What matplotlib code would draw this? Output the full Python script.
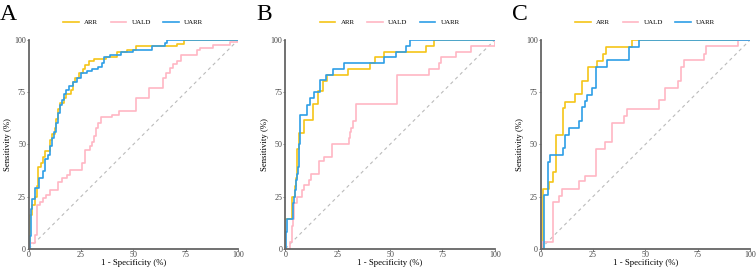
import matplotlib
matplotlib.use("Agg")
import matplotlib.pyplot as plt

plt.rcParams['font.family'] = ['Liberation Serif', 'DejaVu Serif']

# ROC step points: x = 1 - specificity (%), y = sensitivity (%) after each jump
a_arr_x = [0, 0.5, 1.5, 3, 4, 4.5, 6, 7, 8, 10, 11, 12.5, 13, 14, 15, 17, 18, 20, 21, 22, 24, 26, 27, 29, 31, 37, 42, 47, 51, 71, 74, 100]
a_arr_y = [0, 16, 21, 25, 30, 39, 41, 44, 47, 52, 55, 58, 62, 67, 70, 72, 74, 76, 80, 82, 84, 86, 88, 90, 91, 92, 94, 95, 97, 98, 100, 100]
a_uald_x = [0, 0.6, 3, 3.8, 5.4, 7, 8.3, 10.2, 14.2, 16, 18.2, 19.7, 25.3, 27, 29.3, 30, 31, 32, 33, 34.5, 40, 43, 51.3, 57.6, 64, 65.5, 67.6, 69, 71, 72.8, 80.2, 81.8, 88, 96, 100]
a_uald_y = [0, 2.7, 6.7, 21, 22.6, 24.2, 25.8, 28.2, 32, 33.8, 35.4, 37.7, 40.9, 47.3, 49, 51, 54, 57.6, 60, 63, 64, 66, 72.4, 76.9, 82, 84, 86.4, 88.4, 90, 92.8, 95.2, 96.3, 97.6, 99, 100]
a_uarr_x = [0, 0.5, 1, 1.5, 3, 5, 7, 8, 9, 10, 11, 12, 13, 14, 15, 16, 17, 18, 19, 21, 23, 25, 28, 30, 33, 35, 36, 39, 44, 50, 59, 65, 66, 100]
a_uarr_y = [0, 6, 19, 24, 29, 34, 37, 43, 45, 49, 53, 56, 60, 65, 69, 71, 74, 76, 78, 80, 82, 84, 85, 86, 87, 89, 92, 93, 94, 95, 97, 98.5, 100, 100]

b_arr_x = [0, 0, 3.2, 4.8, 5.3, 5.8, 6.7, 9, 13.1, 15.7, 18, 19.7, 30, 40.5, 42.6, 47, 67, 71, 100]
b_arr_y = [0, 14, 25, 30, 34, 47.6, 55.4, 61.5, 69.5, 75.6, 80.4, 83, 86, 88.8, 92, 94.4, 97, 100, 100]
b_uald_x = [0, 2, 3, 3.5, 4, 5.6, 8, 8.8, 11.2, 12.5, 16, 18.4, 22.4, 30.4, 31, 31.6, 32.4, 33.6, 53.1, 68.8, 73.6, 74.4, 81.6, 88.8, 100]
b_uald_y = [0, 3, 11, 14, 22, 25, 28, 30.5, 33, 36, 42, 44, 50, 53, 56, 58, 61, 69.5, 83, 86, 89, 92, 94.4, 97, 100]
b_uarr_x = [0, 0.3, 1, 3.5, 4, 4.5, 5, 5.5, 6, 6.5, 7, 10.5, 12, 13.5, 16.5, 19.5, 23, 28, 47, 53, 57.5, 59.5, 100]
b_uarr_y = [0, 8, 14, 22, 25, 28, 33, 36, 39, 50, 64, 69, 72, 75, 81, 83, 86, 89, 92, 94, 97, 100, 100]

c_arr_x = [0, 1.3, 3.8, 5.7, 7.3, 10.5, 11.8, 16.6, 19.8, 22.6, 27, 29.8, 31.3, 43.7, 100]
c_arr_y = [0, 28.8, 32, 36.8, 54.7, 67.5, 70.5, 74, 80.5, 86.8, 90, 93.3, 96.7, 100, 100]
c_uald_x = [0, 0.6, 5.7, 8.6, 10.2, 18.2, 21, 26.5, 30.6, 34.1, 39.7, 41, 56.6, 59.5, 65.7, 67, 68.6, 77.8, 79.1, 94.2, 100]
c_uald_y = [0, 3, 22.2, 25.4, 28.5, 32.2, 34.8, 47.6, 50.9, 60.4, 63.6, 67.1, 71, 77, 80.5, 87, 90.5, 93.5, 97, 100, 100]
c_uarr_x = [0, 1.4, 3.5, 4.6, 10.5, 11.8, 13.4, 18.2, 19.8, 21, 22.2, 24.6, 26.2, 31.7, 42, 46.9, 100]
c_uarr_y = [0, 25.5, 41.5, 44.9, 48, 54.5, 57.7, 61, 68, 70.6, 73.8, 77, 86.8, 90.2, 96.8, 100, 100]

panels = ['A', 'B', 'C']
series_names = ['ARR', 'UALD', 'UARR']
colors = ['#F5C518', '#FFB6C4', '#2E9EE6']
panel_data = [
    [(a_arr_x, a_arr_y), (a_uald_x, a_uald_y), (a_uarr_x, a_uarr_y)],
    [(b_arr_x, b_arr_y), (b_uald_x, b_uald_y), (b_uarr_x, b_uarr_y)],
    [(c_arr_x, c_arr_y), (c_uald_x, c_uald_y), (c_uarr_x, c_uarr_y)],
]
ticks = [0, 25, 50, 75, 100]

fig = plt.figure(figsize=(7.56, 2.68), dpi=100)
lefts = [0.038, 0.3774, 0.7152]
for i in range(3):
    ax = fig.add_axes([lefts[i], 0.072, 0.277, 0.779])
    ax.plot([0, 100], [0, 100], color='#BBBBBB', lw=0.8, linestyle=(0, (3, 3)))
    for (xs, ys), name, col in zip(panel_data[i], series_names, colors):
        ax.plot(xs, ys, drawstyle='steps-post', color=col, lw=1.2, label=name)
    ax.set_xlim(0, 100)
    ax.set_ylim(0, 100)
    ax.set_xticks(ticks)
    ax.set_yticks(ticks)
    for s in ['top', 'right']:
        ax.spines[s].set_visible(False)
    for s in ['left', 'bottom']:
        ax.spines[s].set_color('#666666')
        ax.spines[s].set_linewidth(1.3)
    ax.tick_params(length=1.5, width=0.6, color='#666666', labelsize=5.8, labelcolor='#444444', pad=0.5)
    ax.set_xlabel('1 - Specificity (%)', fontsize=6.3, labelpad=0)
    ax.set_ylabel('Sensitivity (%)', fontsize=6.3, labelpad=1.5)
    ax.legend(loc='lower center', bbox_to_anchor=(0.5, 1.04), ncol=3, frameon=False,
              fontsize=5, handlelength=2.2, handletextpad=0.8, columnspacing=1.8)
    fig.text(lefts[i] - 0.038, 0.985, panels[i], fontsize=17, va='top', ha='left')

fig.savefig('out.png', dpi=100)
